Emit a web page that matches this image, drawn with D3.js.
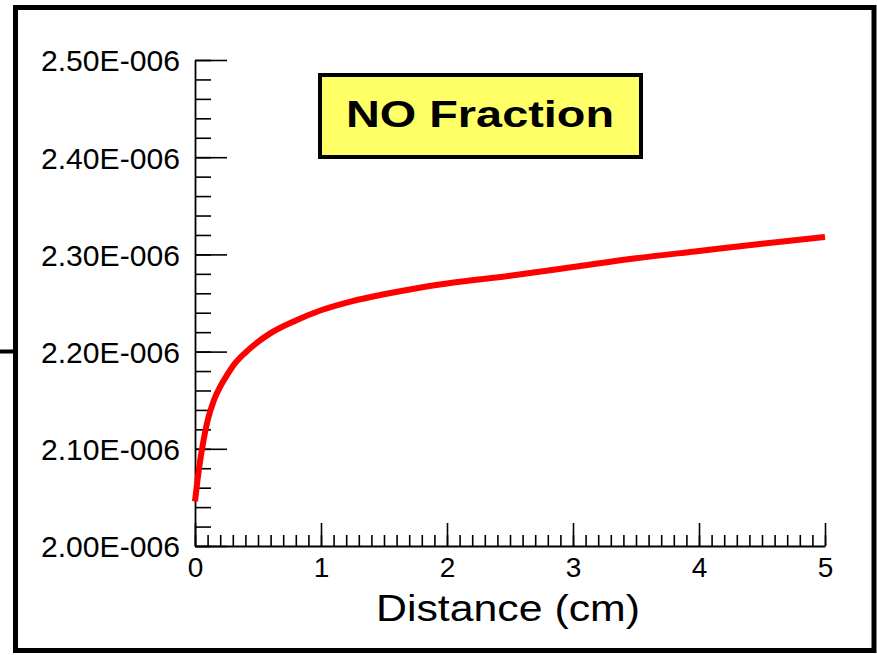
<!DOCTYPE html>
<html>
<head>
<meta charset="utf-8">
<script src="https://cdn.jsdelivr.net/npm/d3@7"></script>
<style>
  html, body { margin: 0; padding: 0; background: #ffffff; }
  svg { display: block; }
  text { font-family: "Liberation Sans", Arial, Helvetica, sans-serif; fill: #000; }
</style>
</head>
<body>
<svg id="chart" width="877" height="655"></svg>
<script>
// NO mole fraction along the flow direction
const distance = [0, 0.02, 0.04, 0.06, 0.08, 0.1, 0.15, 0.2, 0.25, 0.3, 0.4, 0.5, 0.6, 0.8, 1.0,
                  1.25, 1.5, 1.75, 2.0, 2.5, 3.0, 3.5, 4.0, 4.5, 5.0];
const noFraction = [2.046e-6, 2.068e-6, 2.087e-6, 2.103e-6, 2.117e-6, 2.129e-6, 2.150e-6, 2.164e-6, 2.175e-6,
                    2.185e-6, 2.199e-6, 2.210e-6, 2.219e-6, 2.232e-6, 2.2425e-6,
                    2.252e-6, 2.259e-6, 2.265e-6, 2.270e-6, 2.278e-6, 2.287e-6, 2.296e-6, 2.3035e-6, 2.311e-6, 2.318e-6];

const xTicks = [0, 1, 2, 3, 4, 5];
const xTickLabels = ["0", "1", "2", "3", "4", "5"];
const yTicks = [2.0e-6, 2.1e-6, 2.2e-6, 2.3e-6, 2.4e-6, 2.5e-6];
const yTickLabels = ["2.00E-006", "2.10E-006", "2.20E-006", "2.30E-006", "2.40E-006", "2.50E-006"];
const xMinorTicks = d3.range(0, 51).map(i => i / 10);
const yMinorTicks = d3.range(0, 26).map(i => 2.0e-6 + i * 0.02e-6);

const titleText = "NO Fraction";
const xAxisTitle = "Distance (cm)";

const svg = d3.select("#chart");

// outer frame
svg.append("rect")
  .attr("x", 15.5).attr("y", 7.5)
  .attr("width", 858.5).attr("height", 643)
  .attr("fill", "none").attr("stroke", "#000").attr("stroke-width", 5);
svg.append("line")
  .attr("x1", 0).attr("x2", 15).attr("y1", 351.5).attr("y2", 351.5)
  .attr("stroke", "#000").attr("stroke-width", 4);

const x = d3.scaleLinear().domain([0, 5]).range([195, 825]);
const y = d3.scaleLinear().domain([2.0e-6, 2.5e-6]).range([546, 60]);

// y axis: ticks point into the plot, labels on the left
const gy = svg.append("g").attr("transform", `translate(${x(0)},0)`);
gy.call(d3.axisLeft(y).tickValues(yMinorTicks).tickSize(-16).tickFormat(""));
gy.call(g => g.select(".domain").remove());
const gyMajor = svg.append("g").attr("transform", `translate(${x(0)},0)`);
gyMajor.call(d3.axisLeft(y).tickValues(yTicks).tickSize(-32).tickPadding(15)
  .tickFormat((d, i) => yTickLabels[i]).tickSizeOuter(0));

// x axis: ticks point up, labels below
const gx = svg.append("g").attr("transform", `translate(0,${y(2.0e-6)})`);
gx.call(d3.axisBottom(x).tickValues(xMinorTicks).tickSize(-11).tickFormat(""));
gx.call(g => g.select(".domain").remove());
const gxMajor = svg.append("g").attr("transform", `translate(0,${y(2.0e-6)})`);
gxMajor.call(d3.axisBottom(x).tickValues(xTicks).tickSize(-23).tickPadding(11)
  .tickFormat((d, i) => xTickLabels[i]).tickSizeOuter(0));

svg.selectAll(".tick line").attr("stroke", "#000").attr("stroke-width", 1.6);
svg.selectAll(".domain").attr("stroke", "#000").attr("stroke-width", 1.8);

gyMajor.selectAll(".tick text")
  .attr("font-size", 30).attr("font-family", "Liberation Sans, Arial, sans-serif")
  .attr("textLength", 139).attr("lengthAdjust", "spacingAndGlyphs")
  .attr("dy", "0.36em");
gxMajor.selectAll(".tick text")
  .attr("font-size", 28).attr("font-family", "Liberation Sans, Arial, sans-serif")
  .attr("dy", "0.72em");

// axis title
svg.append("text")
  .attr("x", 508).attr("y", 621)
  .attr("text-anchor", "middle")
  .attr("font-size", 36)
  .attr("textLength", 264).attr("lengthAdjust", "spacingAndGlyphs")
  .text(xAxisTitle);

// data curve
const line = d3.line()
  .x((d, i) => x(distance[i]))
  .y(d => y(d))
  .curve(d3.curveMonotoneX);
svg.append("path")
  .datum(noFraction)
  .attr("d", line)
  .attr("fill", "none")
  .attr("stroke", "#ff0000")
  .attr("stroke-width", 6);

// title box
svg.append("rect")
  .attr("x", 320).attr("y", 75)
  .attr("width", 321).attr("height", 82)
  .attr("fill", "#ffff66").attr("stroke", "#000").attr("stroke-width", 4);
svg.append("text")
  .attr("x", 480).attr("y", 127)
  .attr("text-anchor", "middle")
  .attr("font-size", 36).attr("font-weight", "bold")
  .attr("textLength", 268).attr("lengthAdjust", "spacingAndGlyphs")
  .text(titleText);
</script>
</body>
</html>
